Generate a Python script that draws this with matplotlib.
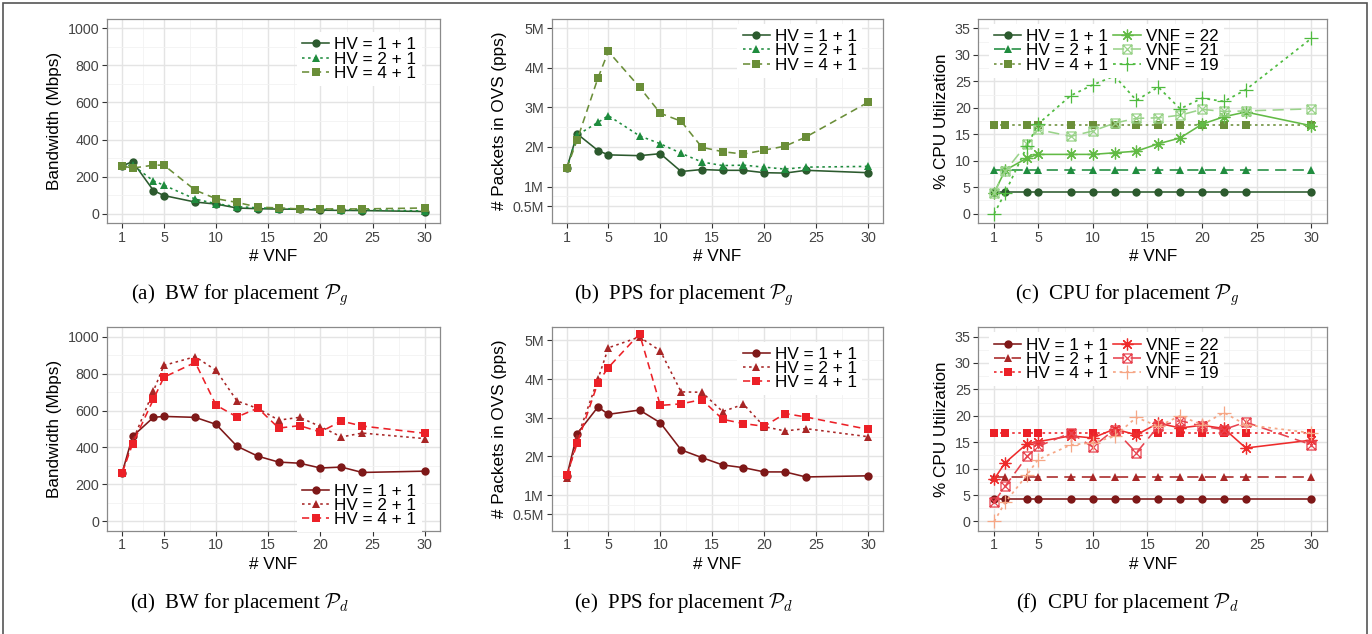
import matplotlib
matplotlib.use('Agg')
import matplotlib.pyplot as plt
from matplotlib.path import Path
from matplotlib.patches import Rectangle

plt.rcParams['font.family'] = ['Liberation Sans', 'DejaVu Sans']

# ---------------- data ----------------
vnf = [1, 2, 4, 5, 8, 10, 12, 14, 16, 18, 20, 22, 24, 30]
hv_labels = ['HV = 1 + 1', 'HV = 2 + 1', 'HV = 4 + 1']
vnf_labels = ['VNF = 22', 'VNF = 21', 'VNF = 19']

bw_g_hv1 = [258, 281, 125, 98, 63, 52, 31, 27, 25, 24, 19, 18, 17, 12]
bw_g_hv2 = [258, 262, 177, 154, 79, 54, 38, 32, 28, 26, 24, 22, 22, 15]
bw_g_hv4 = [258, 246, 262, 262, 127, 81, 61, 36, 31, 26, 26, 26, 26, 31]

pps_g_hv1 = [1.46, 2.33, 1.91, 1.80, 1.78, 1.83, 1.38, 1.43, 1.41, 1.41, 1.35, 1.34, 1.41, 1.35]
pps_g_hv2 = [1.46, 2.30, 2.62, 2.79, 2.28, 2.08, 1.84, 1.62, 1.53, 1.54, 1.49, 1.44, 1.49, 1.51]
pps_g_hv4 = [1.46, 2.18, 3.74, 4.41, 3.51, 2.85, 2.65, 1.99, 1.88, 1.82, 1.92, 2.02, 2.25, 3.13]

cpu_hv1 = [4.17, 4.17, 4.17, 4.17, 4.17, 4.17, 4.17, 4.17, 4.17, 4.17, 4.17, 4.17, 4.17, 4.17]
cpu_hv2 = [8.33, 8.33, 8.33, 8.33, 8.33, 8.33, 8.33, 8.33, 8.33, 8.33, 8.33, 8.33, 8.33, 8.33]
cpu_hv4 = [16.67, 16.67, 16.67, 16.67, 16.67, 16.67, 16.67, 16.67, 16.67, 16.67, 16.67, 16.67, 16.67, 16.67]

cpu_g_v22 = [3.95, 8.2, 10.5, 11.2, 11.2, 11.2, 11.5, 11.8, 13.2, 14.3, 16.9, 18.3, 19.2, 16.6]
cpu_g_v21 = [3.95, 8.0, 13.2, 15.9, 14.6, 15.6, 17.1, 18.0, 18.1, 18.6, 19.7, 19.3, 19.4, 19.8]
cpu_g_v19 = [0.0, 3.95, 12.7, 16.9, 22.3, 24.3, 26.0, 21.4, 23.9, 19.8, 21.8, 21.2, 23.4, 33.1]

bw_d_hv1 = [263, 460, 563, 568, 563, 525, 407, 353, 321, 315, 289, 294, 265, 272]
bw_d_hv2 = [263, 434, 706, 844, 891, 817, 652, 611, 548, 563, 513, 457, 478, 448]
bw_d_hv4 = [263, 419, 661, 780, 860, 629, 565, 613, 505, 518, 484, 543, 516, 477]

pps_d_hv1 = [1.49, 2.59, 3.28, 3.09, 3.20, 2.87, 2.17, 1.97, 1.78, 1.71, 1.60, 1.60, 1.47, 1.50]
pps_d_hv2 = [1.43, 2.47, 4.00, 4.81, 5.09, 4.73, 3.67, 3.66, 3.16, 3.35, 2.77, 2.66, 2.72, 2.51]
pps_d_hv4 = [1.51, 2.34, 3.91, 4.30, 5.17, 3.32, 3.36, 3.47, 2.96, 2.85, 2.78, 3.11, 3.02, 2.70]

cpu_d_v22 = [8.0, 11.1, 14.7, 15.1, 16.2, 15.8, 17.5, 16.4, 18.6, 17.7, 18.2, 17.6, 13.9, 15.4]
cpu_d_v21 = [3.7, 6.65, 12.3, 14.2, 16.75, 14.1, 17.4, 13.0, 18.0, 19.1, 18.0, 17.4, 18.8, 14.5]
cpu_d_v19 = [0.0, 3.6, 8.8, 11.7, 14.5, 14.9, 16.1, 19.7, 18.0, 20.0, 18.3, 20.6, 18.3, 16.75]

x_ticks = [1, 5, 10, 15, 20, 25, 30]
bw_ticks = [0, 200, 400, 600, 800, 1000]
pps_ticks = [0.5, 1, 2, 3, 4, 5]
pps_tick_labels = ['0.5M', '1M', '2M', '3M', '4M', '5M']
cpu_ticks = [0, 5, 10, 15, 20, 25, 30, 35]

captions = [r'(a)  BW for placement $\mathcal{P}_g$',
            r'(b)  PPS for placement $\mathcal{P}_g$',
            r'(c)  CPU for placement $\mathcal{P}_g$',
            r'(d)  BW for placement $\mathcal{P}_d$',
            r'(e)  PPS for placement $\mathcal{P}_d$',
            r'(f)  CPU for placement $\mathcal{P}_d$']

green = {'hv1': '#2c5a2e', 'hv2': '#1f8c3e', 'hv4': '#6a8e38',
         'v22': '#62ba45', 'v21': '#9ad38a', 'v19': '#4fbb3f'}
red = {'hv1': '#7e1818', 'hv2': '#a82626', 'hv4': '#ec2027',
       'v22': '#ee2b2b', 'v21': '#e8434f', 'v19': '#f6a786'}

# ---------------- styles ----------------
DOT = (0, (1.6, 2.2))
DASH = (0, (4.5, 3.0))
LONGDASH = (0, (7, 4))

boxx = Path([(-1, -1), (1, -1), (1, 1), (-1, 1), (-1, -1),
             (-1, -1), (1, 1), (-1, 1), (1, -1)],
            [Path.MOVETO, Path.LINETO, Path.LINETO, Path.LINETO, Path.CLOSEPOLY,
             Path.MOVETO, Path.LINETO, Path.MOVETO, Path.LINETO])

W, H = 1372, 634
fig = plt.figure(figsize=(W / 100, H / 100), dpi=100)


def axes_px(left, right, top, bottom):
    return fig.add_axes([left / W, (H - bottom) / H, (right - left) / W, (bottom - top) / H])


def style_axes(ax, yticks, ylim, ylabels=None):
    ax.set_xlim(-0.45, 31.45)
    ax.set_ylim(*ylim)
    ax.set_xticks(x_ticks)
    ax.set_xticks([3, 7.5, 12.5, 17.5, 22.5, 27.5], minor=True)
    ax.set_yticks(yticks)
    mids = [(a + b) / 2 for a, b in zip(yticks[:-1], yticks[1:])]
    ax.set_yticks(mids, minor=True)
    if ylabels is not None:
        ax.set_yticklabels(ylabels)
    ax.grid(True, which='major', color='#e4e4e4', lw=1.0, zorder=0)
    ax.grid(True, which='minor', color='#f2f2f2', lw=0.6, zorder=0)
    ax.set_axisbelow(True)
    for s in ax.spines.values():
        s.set_color('#8a8a8a')
        s.set_linewidth(0.9)
    ax.tick_params(which='major', length=3.5, width=0.8, color='#333333',
                   labelsize=10.3, labelcolor='#444444', pad=2)
    ax.tick_params(which='minor', length=0)
    ax.set_xlabel('# VNF', fontsize=12.3, labelpad=3)


def plot_hv(ax, ys, cols, lstyles):
    markers = ['o', '^', 's']
    keys = ['hv1', 'hv2', 'hv4']
    hs = []
    for y, m, k, ls in zip(ys, markers, keys, lstyles):
        h, = ax.plot(vnf, y, color=cols[k], ls=ls, lw=1.15, marker=m, ms=6,
                     markeredgewidth=0, zorder=3)
        hs.append(h)
    return hs


def plot_vnf(ax, ys, cols):
    hs = []
    h, = ax.plot(vnf, ys[0], color=cols['v22'], ls='-', lw=1.15, marker=(8, 2, 0),
                 ms=8.5, markeredgewidth=0.9, zorder=4)
    hs.append(h)
    h, = ax.plot(vnf, ys[1], color=cols['v21'], ls=LONGDASH, lw=1.15, marker=boxx,
                 ms=6.5, markerfacecolor='none', markeredgewidth=0.9, zorder=4)
    hs.append(h)
    h, = ax.plot(vnf, ys[2], color=cols['v19'], ls=DOT, lw=1.25, marker='+',
                 ms=10, markeredgewidth=0.9, zorder=4)
    hs.append(h)
    return hs


def legend(ax, hs, labels, x, y, ncol=1):
    leg = ax.legend(hs, labels, loc='upper left', bbox_to_anchor=(x, y),
                    borderaxespad=0, fontsize=12.3, handlelength=1.6,
                    handletextpad=0.3, labelspacing=-0.05, borderpad=0.3,
                    ncol=ncol, columnspacing=0.3, frameon=True, fancybox=False,
                    framealpha=1.0, facecolor='white', numpoints=1)
    leg.get_frame().set_linewidth(0)
    leg.set_zorder(10)
    return leg


rows = [(19, 223), (327.3, 530.7)]
cols_px = [(107, 440), (551.7, 883.3), (978.3, 1327.3)]

for r, (top, bot) in enumerate(rows):
    pal = green if r == 0 else red
    bw = [bw_g_hv1, bw_g_hv2, bw_g_hv4] if r == 0 else [bw_d_hv1, bw_d_hv2, bw_d_hv4]
    pps = [pps_g_hv1, pps_g_hv2, pps_g_hv4] if r == 0 else [pps_d_hv1, pps_d_hv2, pps_d_hv4]
    cpuv = [cpu_g_v22, cpu_g_v21, cpu_g_v19] if r == 0 else [cpu_d_v22, cpu_d_v21, cpu_d_v19]

    # Bandwidth
    ax = axes_px(cols_px[0][0], cols_px[0][1], top, bot)
    style_axes(ax, bw_ticks, (-50, 1050))
    ax.set_ylabel('Bandwidth (Mbps)', fontsize=12.3, labelpad=4)
    hs = plot_hv(ax, bw, pal, ['-', DOT, DASH])
    if r == 0:
        legend(ax, hs, hv_labels, 0.57, 0.935)
    else:
        legend(ax, hs, hv_labels, 0.57, 0.255)

    # PPS
    ax = axes_px(cols_px[1][0], cols_px[1][1], top, bot)
    style_axes(ax, pps_ticks, (0.08, 5.23) if r == 0 else (0.08, 5.34), pps_tick_labels)
    ax.set_ylabel('# Packets in OVS (pps)', fontsize=12.3, labelpad=4)
    hs = plot_hv(ax, pps, pal, ['-', DOT, DASH])
    if r == 0:
        legend(ax, hs, hv_labels, 0.56, 0.975)
    else:
        legend(ax, hs, hv_labels, 0.56, 0.93)

    # CPU
    ax = axes_px(cols_px[2][0], cols_px[2][1], top, bot)
    style_axes(ax, cpu_ticks, (-1.75, 36.75))
    ax.set_ylabel('% CPU Utilization', fontsize=12.3, labelpad=4)
    hs = plot_hv(ax, [cpu_hv1, cpu_hv2, cpu_hv4], pal, ['-', LONGDASH, DOT])
    hs += plot_vnf(ax, cpuv, pal)
    legend(ax, hs, hv_labels + vnf_labels, 0.03, 0.975, ncol=2)

# captions
cap_x = [240, 684, 1127]
cap_y = [295, 603]
for i, cap in enumerate(captions):
    r, c = divmod(i, 3)
    fig.text(cap_x[c] / W, 1 - cap_y[r] / H, cap, ha='center', va='center',
             fontsize=15, family='Liberation Serif', math_fontfamily='cm')

# outer frame
fig.patches.append(Rectangle((3 / W, -0.05), (1367 - 3) / W, 1.05 - 3 / H,
                             transform=fig.transFigure, fill=False,
                             edgecolor='#555555', lw=1.2))

fig.savefig('out.png', dpi=100)
